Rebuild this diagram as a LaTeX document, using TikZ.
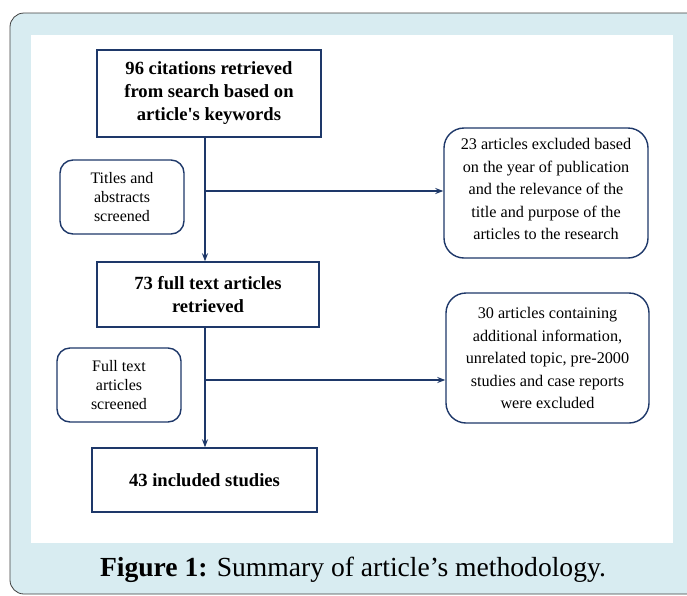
\documentclass[tikz,border=0pt]{standalone}
\usepackage{fontspec}
\setmainfont{Liberation Serif}
\usetikzlibrary{positioning,arrows.meta}

\begin{document}
\begin{tikzpicture}[x=1pt, y=-1pt, >={Stealth[length=8pt, width=6pt]},
    stagebox/.style={draw=navy, line width=1.4pt, fill=white, align=center, inner sep=0pt,
        font=\bfseries\fontsize{18.6}{23}\selectfont},
    notebox/.style={draw=navy, line width=1.4pt, rounded corners=13pt, fill=white, align=center, inner sep=0pt,
        font=\fontsize{16}{19}\selectfont},
    bignote/.style={notebox, rounded corners=20pt, font=\fontsize{16.2}{22.5}\selectfont},
    flow/.style={draw=navy, line width=1.4pt}]
            \definecolor{navy}{RGB}{30, 56, 105}
            \definecolor{panelblue}{RGB}{216, 236, 241}

            \useasboundingbox (0,0) rectangle (687,595);
            \begin{scope}
                \clip (0,0) rectangle (687,595);
                \fill[panelblue, draw=black!75, line width=0.8pt, rounded corners=14pt] (10,13) rectangle (720,594);
            \end{scope}
            \fill[white] (31,35) rectangle (673,543);

            \node[stagebox, minimum width=224, minimum height=87] (search) at (209,93.5) {96 citations retrieved\\from search based on\\article\textquotesingle s keywords};
            \node[stagebox, minimum width=222, minimum height=65] (fulltext) at (208,294.5) {73 full text articles\\retrieved};
            \node[stagebox, minimum width=225, minimum height=64] (included) at (204.5,480) {43 included studies};

            \node[notebox, minimum width=124, minimum height=74] (screen1) at (122,197) {Titles and\\abstracts\\screened};
            \node[notebox, minimum width=124, minimum height=74] (screen2) at (119,385) {Full text\\articles\\screened};

            \node[bignote, minimum width=204, minimum height=130, text depth=8pt] (exclude1) at (546,193) {23 articles excluded based\\on the year of publication\\and the relevance of the\\title and purpose of the\\articles to the research};
            \node[bignote, minimum width=203, minimum height=130] (exclude2) at (547.5,358) {30 articles containing\\additional information,\\unrelated topic, pre-2000\\studies and case reports\\were excluded};

            \coordinate (branch1) at (205,191);
            \coordinate (branch2) at (205,380);

            \draw[flow, ->] (search.south -| branch1) -- (fulltext.north -| branch1);
            \draw[flow, ->] (branch1) -- (exclude1.west |- branch1);
            \draw[flow, ->] (fulltext.south -| branch2) -- (included.north -| branch2);
            \draw[flow, ->] (branch2) -- (exclude2.west |- branch2);

            \node[font=\fontsize{27.6}{30}\selectfont] (caption) at (353,570) {\textbf{Figure 1:} Summary of article's methodology.};
        \end{tikzpicture}
\end{document}
